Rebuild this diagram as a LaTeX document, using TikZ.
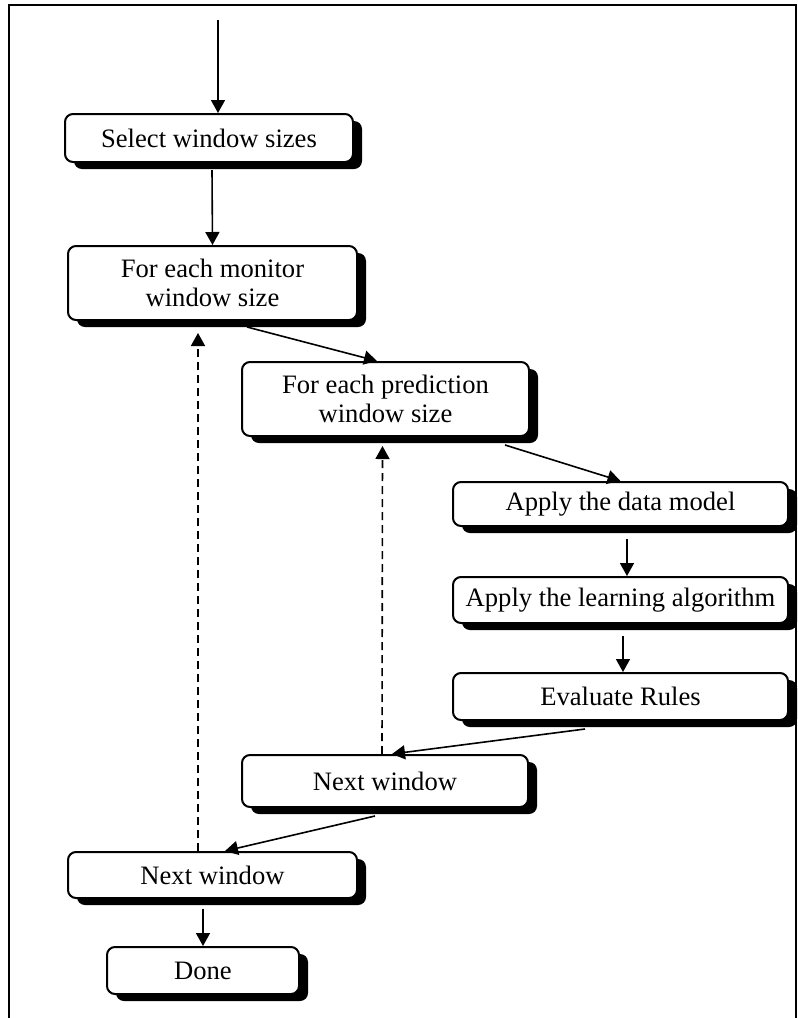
\documentclass[tikz,border=0pt]{standalone}
\usepackage{fontspec}
\setmainfont{Liberation Serif}
\usetikzlibrary{arrows.meta,shadows}

\begin{document}
\begin{tikzpicture}[x=0.5pt, y=-0.5pt, every node/.style={draw,line width=1pt,rounded corners=4pt,fill=white,align=center,inner sep=0pt,font=\fontsize{13.3}{14.6}\selectfont,drop shadow={shadow xshift=4.5pt,shadow yshift=-3.5pt,fill=black,opacity=1}}, arr/.style={-{Triangle[length=6.5pt,width=7pt]},line width=0.8pt}, dsh/.style={arr,dash pattern=on 4pt off 2.5pt}]
\useasboundingbox (0,0) rectangle (798,1018);
\draw[line width=1pt] (9,1020) -- (9,5) -- (796,5) -- (796,1020);
\node (select) at (209,138) [minimum width=144pt,minimum height=24pt] {Select window sizes};
\node (monitor) at (212.5,283) [minimum width=144.5pt,minimum height=37pt] {For each monitor\\window size};
\node (pred) at (385.5,399) [minimum width=143.5pt,minimum height=37pt] {For each prediction\\window size};
\node (data) at (620.5,504) [minimum width=167.5pt,minimum height=22pt] {Apply the data model};
\node (learn) at (620.5,600) [minimum width=167.5pt,minimum height=23pt] {Apply the learning algorithm};
\node (eval) at (620.5,696.5) [minimum width=167.5pt,minimum height=23.5pt] {Evaluate Rules};
\node (nextin) at (385,781) [minimum width=143pt,minimum height=26pt] {Next window};
\node (nextout) at (212.5,875) [minimum width=144.5pt,minimum height=23pt] {Next window};
\node (done) at (203,970.5) [minimum width=96pt,minimum height=23.5pt] {Done};
\coordinate (start) at (218,20);
\draw[arr] (start) -- ([xshift=4.5pt]select.north);
\draw[arr] ([xshift=1.5pt,yshift=-3.5pt]select.south) -- (monitor.north);
\draw[arr] ([xshift=17.25pt,yshift=-3pt]monitor.south) -- ([xshift=-4.25pt]pred.north);
\draw[arr] ([xshift=59.75pt,yshift=-4pt]pred.south) -- (data.north);
\draw[arr] ([xshift=3.25pt,yshift=-6pt]data.south) -- ([xshift=3.25pt]learn.north);
\draw[arr] ([xshift=1.25pt,yshift=-6pt]learn.south) -- ([xshift=1.25pt]eval.north);
\draw[arr] ([xshift=-17.75pt,yshift=-4pt]eval.south) -- ([xshift=3.5pt]nextin.north);
\draw[arr] ([xshift=-5pt,yshift=-4pt]nextin.south) -- ([xshift=6.25pt]nextout.north);
\draw[arr] ([xshift=-4.75pt,yshift=-5pt]nextout.south) -- (done.north);
\draw[dsh] ([xshift=-1.5pt]nextin.north) -- ([xshift=-1.5pt,yshift=-4.5pt]pred.south);
\draw[dsh] ([xshift=-7.25pt]nextout.north) -- ([xshift=-7.25pt,yshift=-6pt]monitor.south);
\end{tikzpicture}
\end{document}
